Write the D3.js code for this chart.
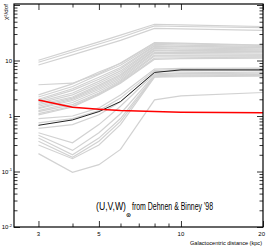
<!DOCTYPE html>
<html>
<head>
<meta charset="utf-8">
<script src="https://cdn.jsdelivr.net/npm/d3@7"></script>
<style>
  body { margin: 0; background: #fff; }
  svg { display: block; font-family: "Liberation Sans Narrow", "Liberation Sans", Arial, sans-serif; }
</style>
</head>
<body>
<div id="chart"></div>
<script>
// Galactocentric distance (kpc) where chi2/dof was evaluated
const radii = [3, 4, 5, 6, 8, 10, 20];

// gray runs (one per model)
const grayRuns = [
  // top group
  [10.1, 15.5, 21.7, 28.6, 45, 44, 41],
  [9.3, 14.2, 19.8, 26, 42, 41, 39],
  [8.3, 12.6, 17.6, 23, 38, 37, 35],
  // middle bundle
  [3.66, 3.9, 5.8, 9.0, 21, 20.5, 19],
  [2.4, 3.8, 6.2, 8.8, 20.5, 20, 18.8],
  [2.2, 3.4, 5.6, 8.2, 19.5, 19, 18],
  [2.0, 3.1, 5.0, 7.5, 18.5, 18, 17.5],
  [1.9, 2.9, 4.6, 7.0, 18, 17.5, 17],
  [1.8, 2.6, 4.2, 6.5, 17, 16.8, 16.2],
  [1.7, 2.4, 3.9, 6.0, 16.5, 16, 15.5],
  [1.6, 2.2, 3.6, 5.6, 15.5, 15.2, 15],
  [1.5, 2.1, 3.4, 5.3, 15, 14.8, 14.5],
  [1.4, 2.0, 3.2, 5.0, 14, 14, 13.8],
  [1.35, 1.9, 3.0, 4.7, 13.5, 13.3, 13],
  [1.25, 1.75, 2.8, 4.4, 12.5, 12.5, 12.5],
  [1.2, 1.6, 2.6, 4.2, 12, 12, 12],
  [1.1, 1.5, 2.5, 4.0, 11, 11.2, 11.5],
  [1.05, 1.45, 2.4, 3.9, 10.5, 10.8, 11],
  // around the best model
  [0.9, 1.0, 1.4, 2.4, 7.0, 7.2, 7.3],
  [0.75, 0.9, 1.25, 2.1, 6.6, 6.9, 7.0],
  [0.6, 0.7, 1.05, 1.8, 6.2, 6.5, 6.6],
  [0.5, 0.33, 0.7, 1.5, 5.8, 6.0, 6.2],
  [0.45, 0.24, 0.5, 1.1, 5.5, 5.8, 5.9],
  [0.4, 0.2, 0.4, 0.9, 5.3, 5.5, 5.6],
  [0.35, 0.18, 0.35, 0.8, 5.1, 5.3, 5.4],
  [0.3, 0.17, 0.3, 0.7, 5.0, 5.1, 5.2],
  // lowest
  [0.21, 0.097, 0.133, 0.25, 1.95, 2.3, 2.65]
];

const bestRun = [0.68, 0.85, 1.2, 1.82, 6.1, 6.77, 6.77];
const dehnenRun = [1.95, 1.44, 1.32, 1.25, 1.2, 1.17, 1.15];

const xMajor = [3, 5, 10, 20];
const xMinor = [4, 6, 7, 8, 9];
const yMajor = [0.01, 0.1, 1, 10, 100];
const yLabels = [["10", "-2"], ["10", "-1"], ["1", ""], ["10", ""]];

const W = 266, H = 249;
const plotL = 14, plotR = 263, plotT = 5, plotB = 227;

const x = d3.scaleLog().domain([2.44, 20]).range([plotL, plotR]);
const y = d3.scaleLog().domain([0.01, 100]).range([plotB, plotT]);

const svg = d3.select("#chart").append("svg")
  .attr("width", W).attr("height", H);

const line = d3.line()
  .x((d, i) => x(radii[i]))
  .y(d => y(d));

const plot = svg.append("g");

grayRuns.forEach(run => {
  plot.append("path")
    .datum(run)
    .attr("fill", "none")
    .attr("stroke", "#d2d2d2")
    .attr("stroke-width", 1.2)
    .attr("d", line);
});

plot.append("path")
  .datum(bestRun)
  .attr("fill", "none")
  .attr("stroke", "#222")
  .attr("stroke-width", 1)
  .attr("d", line);

plot.append("path")
  .datum(dehnenRun)
  .attr("fill", "none")
  .attr("stroke", "#ff0000")
  .attr("stroke-width", 1.5)
  .attr("d", line);

// y minor ticks 2..9 in each decade
const yMinor = [];
[0.01, 0.1, 1, 10].forEach(d => {
  for (let k = 2; k <= 9; k++) yMinor.push(d * k);
});

function addAxis(axis, tx, ty) {
  const g = svg.append("g")
    .attr("transform", `translate(${tx},${ty})`)
    .call(axis);
  g.select(".domain").remove();
  g.selectAll("line").attr("stroke", "#000").attr("stroke-width", 0.8);
  g.selectAll("text").remove();
  return g;
}

// ticks pointing inwards on all four sides
addAxis(d3.axisBottom(x).tickValues(xMinor).tickSize(-3.5), 0, plotB);
addAxis(d3.axisBottom(x).tickValues(xMajor).tickSize(-6), 0, plotB);
addAxis(d3.axisTop(x).tickValues(xMinor).tickSize(-3.5), 0, plotT - 1);
addAxis(d3.axisTop(x).tickValues(xMajor).tickSize(-6), 0, plotT - 1);
addAxis(d3.axisLeft(y).tickValues(yMinor).tickSize(-3.5), plotL, 0);
addAxis(d3.axisLeft(y).tickValues(yMajor).tickSize(-6), plotL, 0);
addAxis(d3.axisRight(y).tickValues(yMinor).tickSize(-3.5), plotR, 0);
addAxis(d3.axisRight(y).tickValues(yMajor).tickSize(-6), plotR, 0);

// frame
svg.append("rect")
  .attr("x", plotL).attr("y", plotT - 1)
  .attr("width", plotR - plotL).attr("height", plotB - plotT + 1)
  .attr("fill", "none")
  .attr("stroke", "#000")
  .attr("stroke-width", 1.2);

// y tick labels
yLabels.forEach((lab, i) => {
  const t = svg.append("text")
    .attr("x", 12)
    .attr("y", y(yMajor[i]) + 2)
    .attr("text-anchor", "end")
    .style("font-size", "6px")
    .text(lab[0]);
  if (lab[1]) {
    t.append("tspan")
      .attr("dy", -2.5)
      .style("font-size", "4px")
      .text(lab[1]);
  }
});

// x tick labels
xMajor.forEach(d => {
  svg.append("text")
    .attr("x", x(d))
    .attr("y", 236)
    .attr("text-anchor", d === 20 ? "end" : "middle")
    .attr("dx", d === 20 ? 2 : 0)
    .style("font-size", "6px")
    .text(d);
});

// axis titles
svg.append("text")
  .attr("x", 262)
  .attr("y", 245)
  .attr("text-anchor", "end")
  .attr("textLength", 72)
  .attr("lengthAdjust", "spacingAndGlyphs")
  .style("font-size", "6px")
  .text("Galactocentric distance (kpc)");

svg.append("text")
  .attr("transform", "translate(8,4) rotate(-90)")
  .attr("text-anchor", "end")
  .attr("textLength", 16)
  .attr("lengthAdjust", "spacingAndGlyphs")
  .style("font-size", "6px")
  .text("χ²/dof");

// annotation
svg.append("text")
  .attr("x", 96)
  .attr("y", 210)
  .attr("textLength", 30)
  .attr("lengthAdjust", "spacingAndGlyphs")
  .style("font-size", "10px")
  .text("(U,V,W)");

svg.append("text")
  .attr("x", 128.5)
  .attr("y", 216.5)
  .attr("text-anchor", "middle")
  .style("font-size", "6px")
  .style("font-family", "DejaVu Sans")
  .style("font-weight", "bold")
  .text("⊙");

svg.append("text")
  .attr("x", 132)
  .attr("y", 210)
  .attr("textLength", 81)
  .attr("lengthAdjust", "spacingAndGlyphs")
  .style("font-size", "10px")
  .text("from Dehnen & Binney '98");
</script>
</body>
</html>
